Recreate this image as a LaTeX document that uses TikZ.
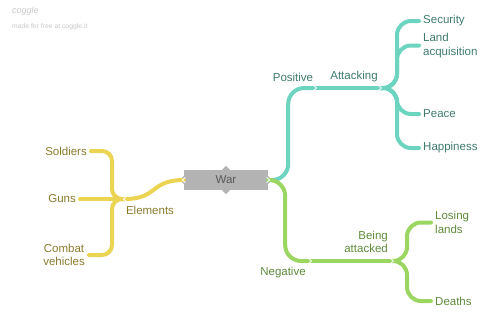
\documentclass[tikz,border=0pt]{standalone}
\usepackage{fontspec}
\setmainfont{Liberation Sans}
\usetikzlibrary{calc}

\definecolor{posline}{HTML}{6CD4BF}
\definecolor{postext}{HTML}{3E7A6E}
\definecolor{negline}{HTML}{9CD662}
\definecolor{negtext}{HTML}{5E8A3A}
\definecolor{eleline}{HTML}{EBD452}
\definecolor{eletext}{HTML}{8A7B2E}
\definecolor{boxgray}{HTML}{B3B3B3}
\definecolor{logogray}{HTML}{C8C8C8}

\tikzset{
	branch/.style={line width=4pt, line cap=round, rounded corners=14pt},
	lbl/.style={font=\fontsize{11.5}{13.5}\selectfont, inner sep=4pt},
	notch/.pic={\fill[boxgray] (0,-4) -- (4,0) -- (0,4) -- cycle;},
	chev/.pic={\draw[white, line width=0.8pt] (-1.5,-2.5) -- (1.5,0) -- (-1.5,2.5);}
}

\begin{document}
\begin{tikzpicture}[x=1pt,y=-1pt]
\useasboundingbox (0,0) rectangle (496,324);

% logo
\node[anchor=west, inner sep=0, text=logogray, font=\itshape\fontsize{9}{10}\selectfont] (logo) at (12,11) {coggle};
\node[anchor=west, inner sep=0, text=logogray, font=\fontsize{6.8}{8}\selectfont] (made) at (12,27) {made for free at coggle.it};

% centre
\node[fill=boxgray, text=black!65, minimum width=84pt, minimum height=20pt, inner sep=0, font=\fontsize{11.5}{13}\selectfont] (war) at (226,180) {War};
\foreach \a/\r in {west/180,east/0,north/90,south/270}
	\pic[rotate=\r] at (war.\a) {notch};

% hubs
\coordinate (eleH) at (125,199);
\coordinate (posH) at (315,88);
\coordinate (attH) at (380,88);
\coordinate (negH) at (310,261);
\coordinate (beiH) at (392,261);

% labels
\node[lbl, text=eletext] (ele) at (150,210) {Elements};
\node[lbl, text=eletext, anchor=east] (sol) at (91,151) {Soldiers};
\node[lbl, text=eletext, anchor=east] (gun) at (80,199) {Guns};
\node[lbl, text=eletext, anchor=east, align=center] (com) at (89,255) {Combat\\vehicles};
\node[lbl, text=postext] (pos) at (293,77) {Positive};
\node[lbl, text=postext] (att) at (354,77) {Attacking};
\node[lbl, text=postext, anchor=west] (sec) at (419,21) {Security};
\node[lbl, text=postext, anchor=west, align=left] (lan) at (419,45.5) {Land\\acquisition};
\node[lbl, text=postext, anchor=west] (pea) at (419,114) {Peace};
\node[lbl, text=postext, anchor=west] (hap) at (419,148) {Happiness};
\node[lbl, text=negtext] (neg) at (283,273) {Negative};
\node[lbl, text=negtext, anchor=east, align=right] (bei) at (392,242) {Being\\attacked};
\node[lbl, text=negtext, anchor=west, align=left] (los) at (431,222.5) {Losing\\lands};
\node[lbl, text=negtext, anchor=west] (dea) at (431,301) {Deaths};

% elements
\draw[branch, eleline] (war.west) .. controls (150,180) and (158,199) .. (eleH);
\draw[branch, eleline, rounded corners=10pt] (eleH) -- ++(-13,0) |- (sol.east);
\draw[branch, eleline] (eleH) -- (gun.east);
\draw[branch, eleline, rounded corners=10pt] (eleH) -- ++(-13,0) |- (com.east);

% positive
\draw[branch, posline, rounded corners=16pt] (war.east) -- ++(20,0) |- (posH);
\draw[branch, posline] (posH) -- (attH);
\foreach \t in {sec,lan,pea,hap}
	\draw[branch, posline] (attH) -- ++(17,0) |- (\t.west);

% negative
\draw[branch, negline, rounded corners=16pt] (war.east) -- ++(17,0) |- (negH);
\draw[branch, negline] (negH) -- (beiH);
\foreach \t in {los,dea}
	\draw[branch, negline] (beiH) -- ++(15,0) |- (\t.west);

% joints
\pic[rotate=180] at (war.west) {chev};
\pic[rotate=180] at (eleH) {chev};
\pic at (war.east) {chev};
\foreach \j in {posH,attH,negH,beiH}
	\pic at (\j) {chev};
\end{tikzpicture}
\end{document}
